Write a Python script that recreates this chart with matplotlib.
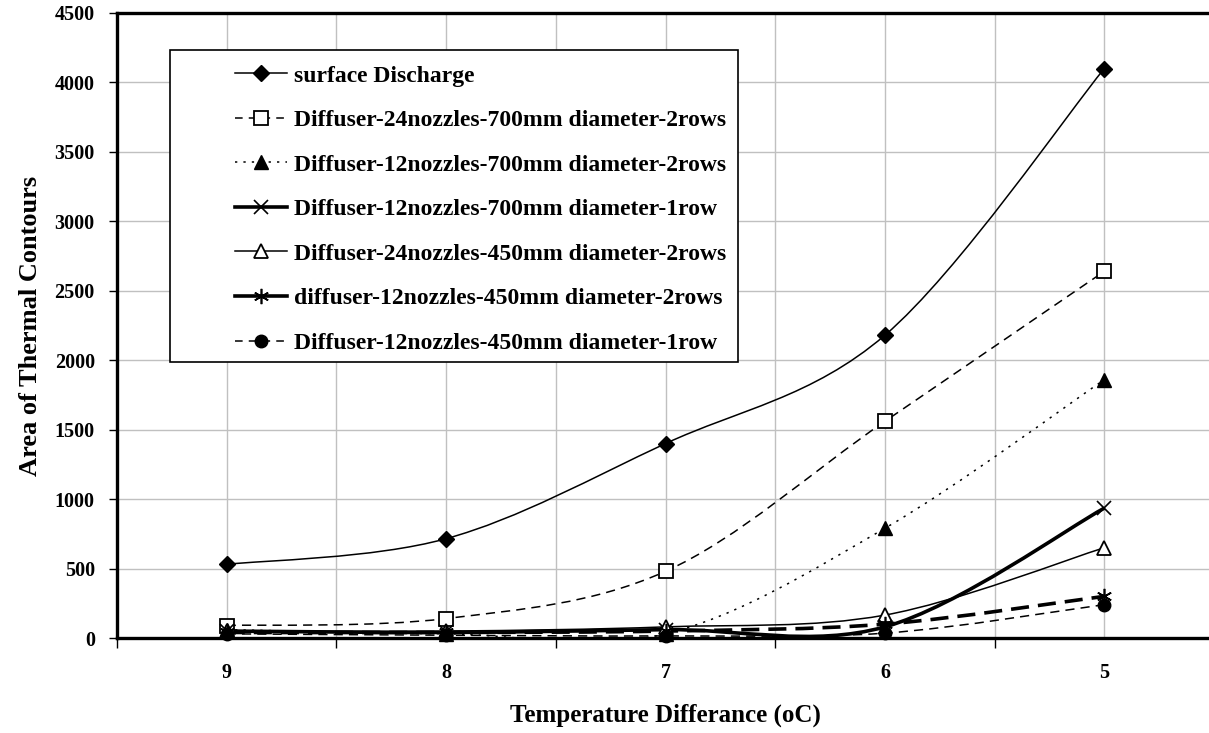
import numpy as np
import matplotlib
matplotlib.use("Agg")
import matplotlib.pyplot as plt
from matplotlib.path import Path
from matplotlib.patches import PathPatch, Rectangle
from matplotlib.lines import Line2D

# Datos
categories = ["9", "8", "7", "6", "5"]

surface_discharge = [530, 715, 1400, 2180, 4100]
d24_700_2rows = [90, 140, 480, 1560, 2640]
d12_700_2rows = [60, 30, 30, 790, 1860]
d12_700_1row = [50, 40, 60, 80, 935]
d24_450_2rows = [50, 50, 80, 165, 650]
d12_450_2rows = [40, 40, 50, 100, 300]
d12_450_1row = [30, 20, 15, 35, 240]

labels = [
    "surface Discharge",
    "Diffuser-24nozzles-700mm diameter-2rows",
    "Diffuser-12nozzles-700mm diameter-2rows",
    "Diffuser-12nozzles-700mm diameter-1row",
    "Diffuser-24nozzles-450mm diameter-2rows",
    "diffuser-12nozzles-450mm diameter-2rows",
    "Diffuser-12nozzles-450mm diameter-1row",
]
series = [surface_discharge, d24_700_2rows, d12_700_2rows, d12_700_1row,
          d24_450_2rows, d12_450_2rows, d12_450_1row]

asterisk = (6, 2, 0)

# Estilo de cada serie en el grafico
styles = [
    dict(lw=1.1, ls="-", marker="D", ms=8, mfc="black", mew=1.0),
    dict(lw=1.1, ls=(0, (6, 4)), marker="s", ms=10, mfc="white", mew=1.3),
    dict(lw=1.1, ls=(0, (1.5, 4)), marker="^", ms=10, mfc="black", mew=1.0),
    dict(lw=2.6, ls="-", marker="x", ms=10, mfc="black", mew=1.2),
    dict(lw=1.1, ls="-", marker="^", ms=10, mfc="white", mew=1.3),
    dict(lw=2.6, ls=(0, (5, 2.5)), marker=asterisk, ms=11, mfc="black", mew=1.2),
    dict(lw=1.1, ls=(0, (6, 4)), marker="o", ms=9, mfc="black", mew=1.0),
]
# Estilo que aparece en la leyenda
legend_ls = ["-", (0, (5, 4)), (0, (1.5, 4)), "-", "-", "-", (0, (5, 4))]


def smooth_path(xs, ys):
    """Curva suavizada tipo Excel (Bezier con puntos de control Catmull-Rom)"""
    p = np.column_stack([xs, ys]).astype(float)
    ext = np.vstack([p[0], p, p[-1]])
    verts = [p[0]]
    codes = [Path.MOVETO]
    for i in range(len(p) - 1):
        c1 = ext[i + 1] + (ext[i + 2] - ext[i]) / 6.0
        c2 = ext[i + 2] - (ext[i + 3] - ext[i + 1]) / 6.0
        verts += [c1, c2, p[i + 1]]
        codes += [Path.CURVE4] * 3
    return Path(verts, codes)


plt.rcParams["font.family"] = ["Liberation Serif", "DejaVu Serif"]
plt.rcParams["font.weight"] = "bold"

fig = plt.figure(figsize=(12.09, 7.33), dpi=100)
ax = fig.add_axes([117 / 1209, 95 / 733, 1097 / 1209, 625 / 733])

x = np.arange(len(categories))
for vals, st in zip(series, styles):
    patch = PathPatch(smooth_path(x, vals), fill=False, edgecolor="black",
                      lw=st["lw"], ls=st["ls"], zorder=3, capstyle="butt")
    ax.add_patch(patch)
    ax.plot(x, vals, ls="none", marker=st["marker"], ms=st["ms"],
            mfc=st["mfc"], mec="black", mew=st["mew"], zorder=4, clip_on=False)

ax.set_xlim(-0.5, 4.5)
ax.set_ylim(0, 4500)

# Ejes
ax.set_yticks(np.arange(0, 4501, 500))
ax.set_xticks(np.arange(-0.5, 4.6, 1.0))
ax.set_xticklabels([])
ax.set_xticks(x, minor=True)
ax.set_xticklabels(categories, minor=True)
ax.tick_params(axis="x", which="major", direction="out", length=7, width=1)
ax.tick_params(axis="x", which="minor", length=0, pad=18, labelsize=14.5)
ax.tick_params(axis="y", direction="out", length=6, width=1, labelsize=14.5, pad=10)

for lab in ax.get_xticklabels(minor=True) + ax.get_yticklabels():
    lab.set_fontweight("bold")

# Rejilla
for gx in np.arange(-0.5, 4.6, 0.5):
    ax.axvline(gx, color="#c0c0c0", lw=1.0, zorder=1)
for gy in np.arange(500, 4500, 500):
    ax.axhline(gy, color="#c0c0c0", lw=1.0, zorder=1)

for s in ["left", "bottom", "top"]:
    ax.spines[s].set_linewidth(2.4)
ax.spines["right"].set_visible(False)

ax.set_xlabel("Temperature Differance (oC)", fontsize=18, fontweight="bold", labelpad=15)
ax.set_ylabel("Area of Thermal Contours", fontsize=19, fontweight="bold", labelpad=9)

# Leyenda
handles = []
for st, ls in zip(styles, legend_ls):
    handles.append(Line2D([], [], color="black", lw=st["lw"], ls=ls,
                          marker=st["marker"], ms=st["ms"], mfc=st["mfc"],
                          mec="black", mew=st["mew"]))

ax.add_patch(Rectangle((53 / 1097, (638 - 362) / 625), 568 / 1097, 312 / 625,
                       transform=ax.transAxes, fill=True, facecolor="white",
                       edgecolor="black", lw=1.2, zorder=5))
leg = ax.legend(handles, labels, loc="upper left",
                bbox_to_anchor=(118 / 1097, (638 - 65) / 625),
                frameon=False, borderpad=0, borderaxespad=0,
                handlelength=2.2, handletextpad=0.3, labelspacing=0.975,
                prop={"weight": "bold", "size": 17})
leg.set_zorder(6)

fig.savefig("out.png", dpi=100)
